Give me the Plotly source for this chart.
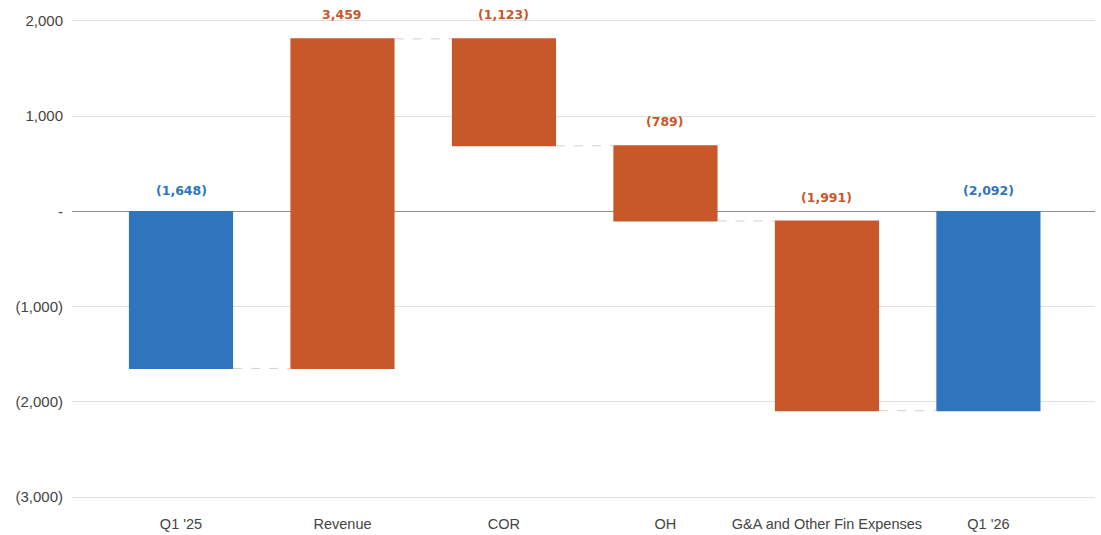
import plotly.graph_objects as go

categories = ["Q1 '25", "Revenue", "COR", "OH", "G&A and Other Fin Expenses", "Q1 '26"]
values = [-1648, 3459, -1123, -789, -1991, -2092]
measures = ["absolute", "relative", "relative", "relative", "relative", "total"]
value_labels = ["(1,648)", "3,459", "(1,123)", "(789)", "(1,991)", "(2,092)"]
ytick_vals = [2000, 1000, 0, -1000, -2000, -3000]
ytick_text = ["2,000", "1,000", "-", "(1,000)", "(2,000)", "(3,000)"]

ORANGE = "#C8572A"
BLUE = "#2E75BE"

fig = go.Figure()
fig.add_trace(go.Waterfall(
    x=categories,
    y=values,
    measure=measures,
    increasing=dict(marker=dict(color=ORANGE)),
    decreasing=dict(marker=dict(color=ORANGE)),
    totals=dict(marker=dict(color=BLUE)),
    connector=dict(mode="between", line=dict(color="#d0d0d0", width=1, dash="dash")),
    textposition="none",
    hoverinfo="skip",
))

# compute bar tops for labels
running = 0
tops = []
for v, m in zip(values, measures):
    if m == "absolute":
        start, end = 0, v
        running = v
    elif m == "total":
        start, end = 0, running
    else:
        start, end = running, running + v
        running = running + v
    tops.append(max(start, end))

for cat, top, lab, m in zip(categories, tops, value_labels, measures):
    is_total = m in ("absolute", "total")
    col = BLUE if is_total else ORANGE
    fig.add_annotation(x=cat, y=top, text=lab, showarrow=False, yanchor="middle",
                       yshift=21 if is_total else 24,
                       font=dict(family="DejaVu Sans, Verdana, sans-serif", size=12.5,
                                 color=col, weight="bold"))

fig.update_layout(
    width=1101, height=535,
    margin=dict(l=72, r=6, t=18, b=34, autoexpand=False),
    paper_bgcolor="white", plot_bgcolor="white",
    showlegend=False,
    waterfallgap=0.355,
    font=dict(family="Liberation Sans, Arial, sans-serif", size=14, color="#444"),
)
fig.update_xaxes(range=[-0.675, 5.66], showgrid=False, zeroline=False, showline=False,
                 automargin=False,
                 ticks="", ticklabelstandoff=12, tickfont=dict(size=14.5, color="#444"))
fig.update_yaxes(range=[-3040, 2030], tickvals=ytick_vals, ticktext=ytick_text,
                 showgrid=True, gridcolor="#e0e0e0", gridwidth=1,
                 zeroline=True, zerolinecolor="#8f8f8f", zerolinewidth=1,
                 showline=False, ticks="", ticklabelstandoff=8, automargin=False,
                 tickfont=dict(size=15, color="#444"))

fig.write_html("out.html")
